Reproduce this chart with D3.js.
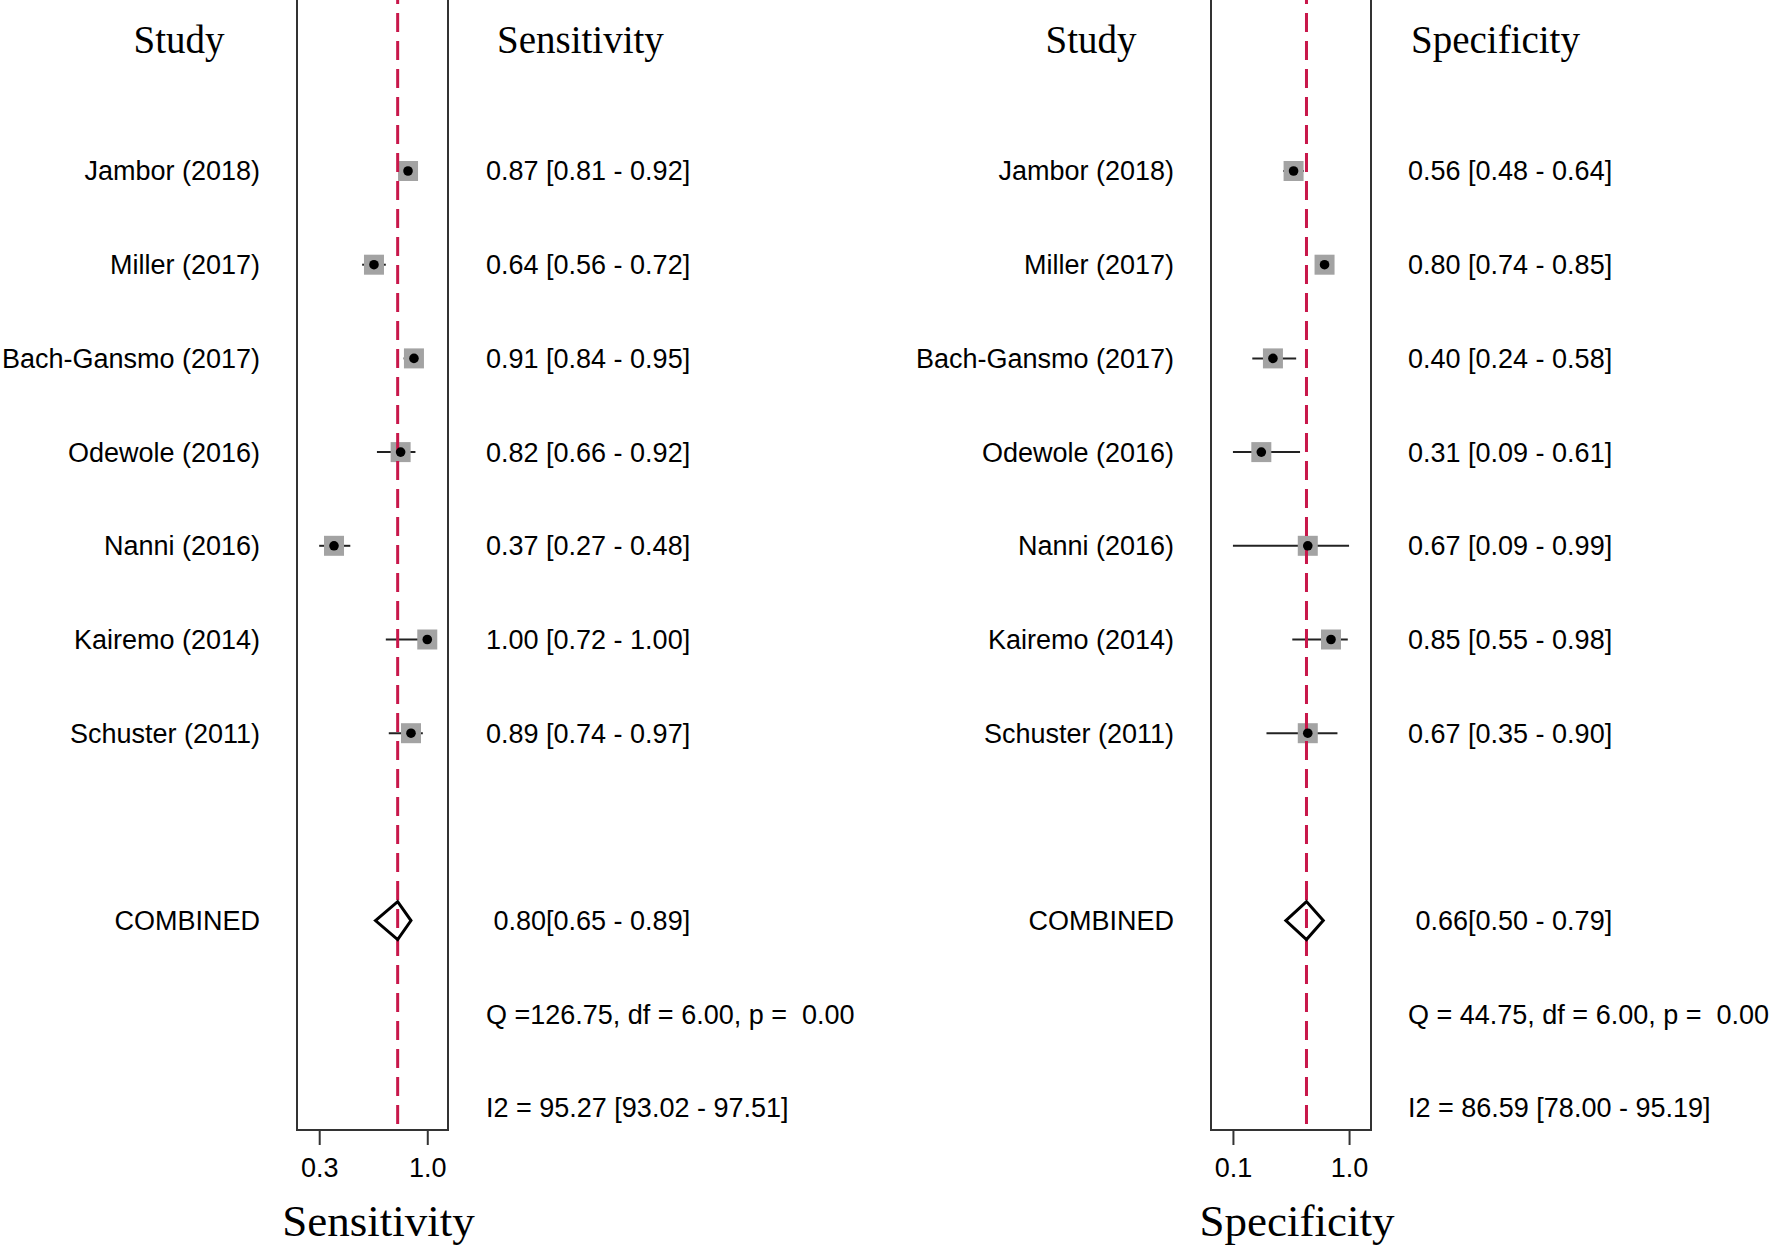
<!DOCTYPE html>
<html>
<head>
<meta charset="utf-8">
<script src="https://cdn.jsdelivr.net/npm/d3@7"></script>
<style>
  body { margin: 0; background: #fff; }
  text { white-space: pre; }
</style>
</head>
<body>
<svg width="1772" height="1245"></svg>
<script>
var studies = ["Jambor (2018)", "Miller (2017)", "Bach-Gansmo (2017)", "Odewole (2016)",
               "Nanni (2016)", "Kairemo (2014)", "Schuster (2011)"];

var sensEst = [0.87, 0.64, 0.91, 0.82, 0.37, 1.00, 0.89];
var sensLo  = [0.81, 0.56, 0.84, 0.66, 0.27, 0.72, 0.74];
var sensHi  = [0.92, 0.72, 0.95, 0.92, 0.48, 1.00, 0.97];

var specEst = [0.56, 0.80, 0.40, 0.31, 0.67, 0.85, 0.67];
var specLo  = [0.48, 0.74, 0.24, 0.09, 0.09, 0.55, 0.35];
var specHi  = [0.64, 0.85, 0.58, 0.61, 0.99, 0.98, 0.90];

var sensCombined = [0.80, 0.65, 0.89];
var specCombined = [0.66, 0.50, 0.79];

var sensQ = "Q =126.75, df = 6.00, p =  0.00";
var sensI2 = "I2 = 95.27 [93.02 - 97.51]";
var specQ = "Q = 44.75, df = 6.00, p =  0.00";
var specI2 = "I2 = 86.59 [78.00 - 95.19]";

// ticks sit at the lowest / highest CI bound, printed with one decimal
var sensTicks = [0.27, 1.00];
var specTicks = [0.09, 0.99];

var svg = d3.select("svg"),
    f2 = d3.format(".2f"),
    sansFont = "'Liberation Sans', Arial, sans-serif",
    serifFont = "'Liberation Serif', 'Times New Roman', serif";

svg.append("rect").attr("width", 1772).attr("height", 1245).attr("fill", "#fff");

// row index -> vertical position (studies 0-6, combined 8, Q 9, I2 10)
var y = d3.scaleLinear().domain([0, 10]).range([171, 1108]);
var bottom = 1130;

function panel(opt) {
    var x = opt.x,
        g = svg.append("g");

    // study labels
    g.append("g").selectAll("text")
        .data(studies)
        .enter().append("text")
        .attr("x", opt.labelX)
        .attr("y", function(d, i) { return y(i); })
        .attr("dy", "0.35em")
        .attr("text-anchor", "end")
        .attr("font-family", sansFont)
        .attr("font-size", 27)
        .text(function(d) { return d; });

    g.append("text")
        .attr("x", opt.labelX)
        .attr("y", y(8))
        .attr("dy", "0.35em")
        .attr("text-anchor", "end")
        .attr("font-family", sansFont)
        .attr("font-size", 27)
        .text("COMBINED");

    // headers
    g.append("text")
        .attr("x", opt.studyHeadX)
        .attr("y", 53)
        .attr("text-anchor", "middle")
        .attr("font-family", serifFont)
        .attr("font-size", 39)
        .text("Study");

    g.append("text")
        .attr("x", opt.valueHeadX)
        .attr("y", 53)
        .attr("font-family", serifFont)
        .attr("font-size", 39)
        .text(opt.title);

    // value column
    g.append("g").selectAll("text")
        .data(opt.est)
        .enter().append("text")
        .attr("x", opt.valueX)
        .attr("y", function(d, i) { return y(i); })
        .attr("dy", "0.35em")
        .attr("font-family", sansFont)
        .attr("font-size", 27)
        .text(function(d, i) {
            return f2(d) + " [" + f2(opt.lo[i]) + " - " + f2(opt.hi[i]) + "]";
        });

    var c = opt.combined;
    g.append("text")
        .attr("x", opt.valueX)
        .attr("y", y(8))
        .attr("dy", "0.35em")
        .attr("font-family", sansFont)
        .attr("font-size", 27)
        .text(" " + f2(c[0]) + "[" + f2(c[1]) + " - " + f2(c[2]) + "]");

    [[opt.q, 9], [opt.i2, 10]].forEach(function(t) {
        g.append("text")
            .attr("x", opt.valueX)
            .attr("y", y(t[1]))
            .attr("dy", "0.35em")
            .attr("font-family", sansFont)
            .attr("font-size", 27)
            .text(t[0]);
    });

    // box (left, right, bottom)
    var x0 = x.range()[0], x1 = x.range()[1];
    g.append("path")
        .attr("d", "M" + x0 + ",0V" + bottom + "H" + x1 + "V0")
        .attr("fill", "none")
        .attr("stroke", "#333")
        .attr("stroke-width", 2);

    // axis
    var axis = g.append("g")
        .attr("transform", "translate(0," + bottom + ")")
        .call(d3.axisBottom(x)
            .tickValues(opt.ticks)
            .tickFormat(d3.format(".1f"))
            .tickSize(15)
            .tickPadding(13));
    axis.select(".domain").remove();
    axis.selectAll(".tick line").attr("stroke", "#333").attr("stroke-width", 2);
    axis.selectAll(".tick text")
        .attr("font-family", sansFont)
        .attr("font-size", 27)
        .attr("fill", "#000");

    g.append("text")
        .attr("x", (x0 + x1) / 2 + 6)
        .attr("y", 1236)
        .attr("text-anchor", "middle")
        .attr("font-family", serifFont)
        .attr("font-size", 45)
        .text(opt.title);

    // confidence intervals
    g.append("g")
        .attr("stroke", "#222")
        .attr("stroke-width", 2)
        .selectAll("line")
        .data(opt.est)
        .enter().append("line")
        .attr("x1", function(d, i) { return x(opt.lo[i]); })
        .attr("x2", function(d, i) { return x(opt.hi[i]); })
        .attr("y1", function(d, i) { return y(i); })
        .attr("y2", function(d, i) { return y(i); });

    g.append("g")
        .attr("fill", "#a3a3a3")
        .selectAll("rect")
        .data(opt.est)
        .enter().append("rect")
        .attr("x", function(d) { return x(d) - 10; })
        .attr("y", function(d, i) { return y(i) - 10; })
        .attr("width", 20)
        .attr("height", 20);

    // pooled estimate reference line
    g.append("line")
        .attr("x1", x(c[0])).attr("x2", x(c[0]))
        .attr("y1", 0).attr("y2", bottom)
        .attr("stroke", "#c8174a")
        .attr("stroke-width", 3)
        .attr("stroke-dasharray", "19,9")
        .attr("stroke-dashoffset", 15);

    g.append("g")
        .attr("fill", "#000")
        .selectAll("circle")
        .data(opt.est)
        .enter().append("circle")
        .attr("cx", function(d) { return x(d); })
        .attr("cy", function(d, i) { return y(i); })
        .attr("r", 4.8);

    // combined diamond
    var yc = y(8);
    g.append("path")
        .attr("d", "M" + x(c[1]) + "," + yc +
                   "L" + x(c[0]) + "," + (yc - 19) +
                   "L" + x(c[2]) + "," + yc +
                   "L" + x(c[0]) + "," + (yc + 19) + "Z")
        .attr("fill", "none")
        .attr("stroke", "#000")
        .attr("stroke-width", 3)
        .attr("stroke-linejoin", "miter");
}

panel({
    title: "Sensitivity",
    x: d3.scaleLinear().domain([0.12, 1.14]).range([297, 448]),
    est: sensEst, lo: sensLo, hi: sensHi,
    combined: sensCombined, q: sensQ, i2: sensI2,
    ticks: sensTicks,
    labelX: 260, studyHeadX: 179, valueX: 486, valueHeadX: 497
});

panel({
    title: "Specificity",
    x: d3.scaleLinear().domain([-0.08, 1.16]).range([1211, 1371]),
    est: specEst, lo: specLo, hi: specHi,
    combined: specCombined, q: specQ, i2: specI2,
    ticks: specTicks,
    labelX: 1174, studyHeadX: 1091, valueX: 1408, valueHeadX: 1411
});
</script>
</body>
</html>
